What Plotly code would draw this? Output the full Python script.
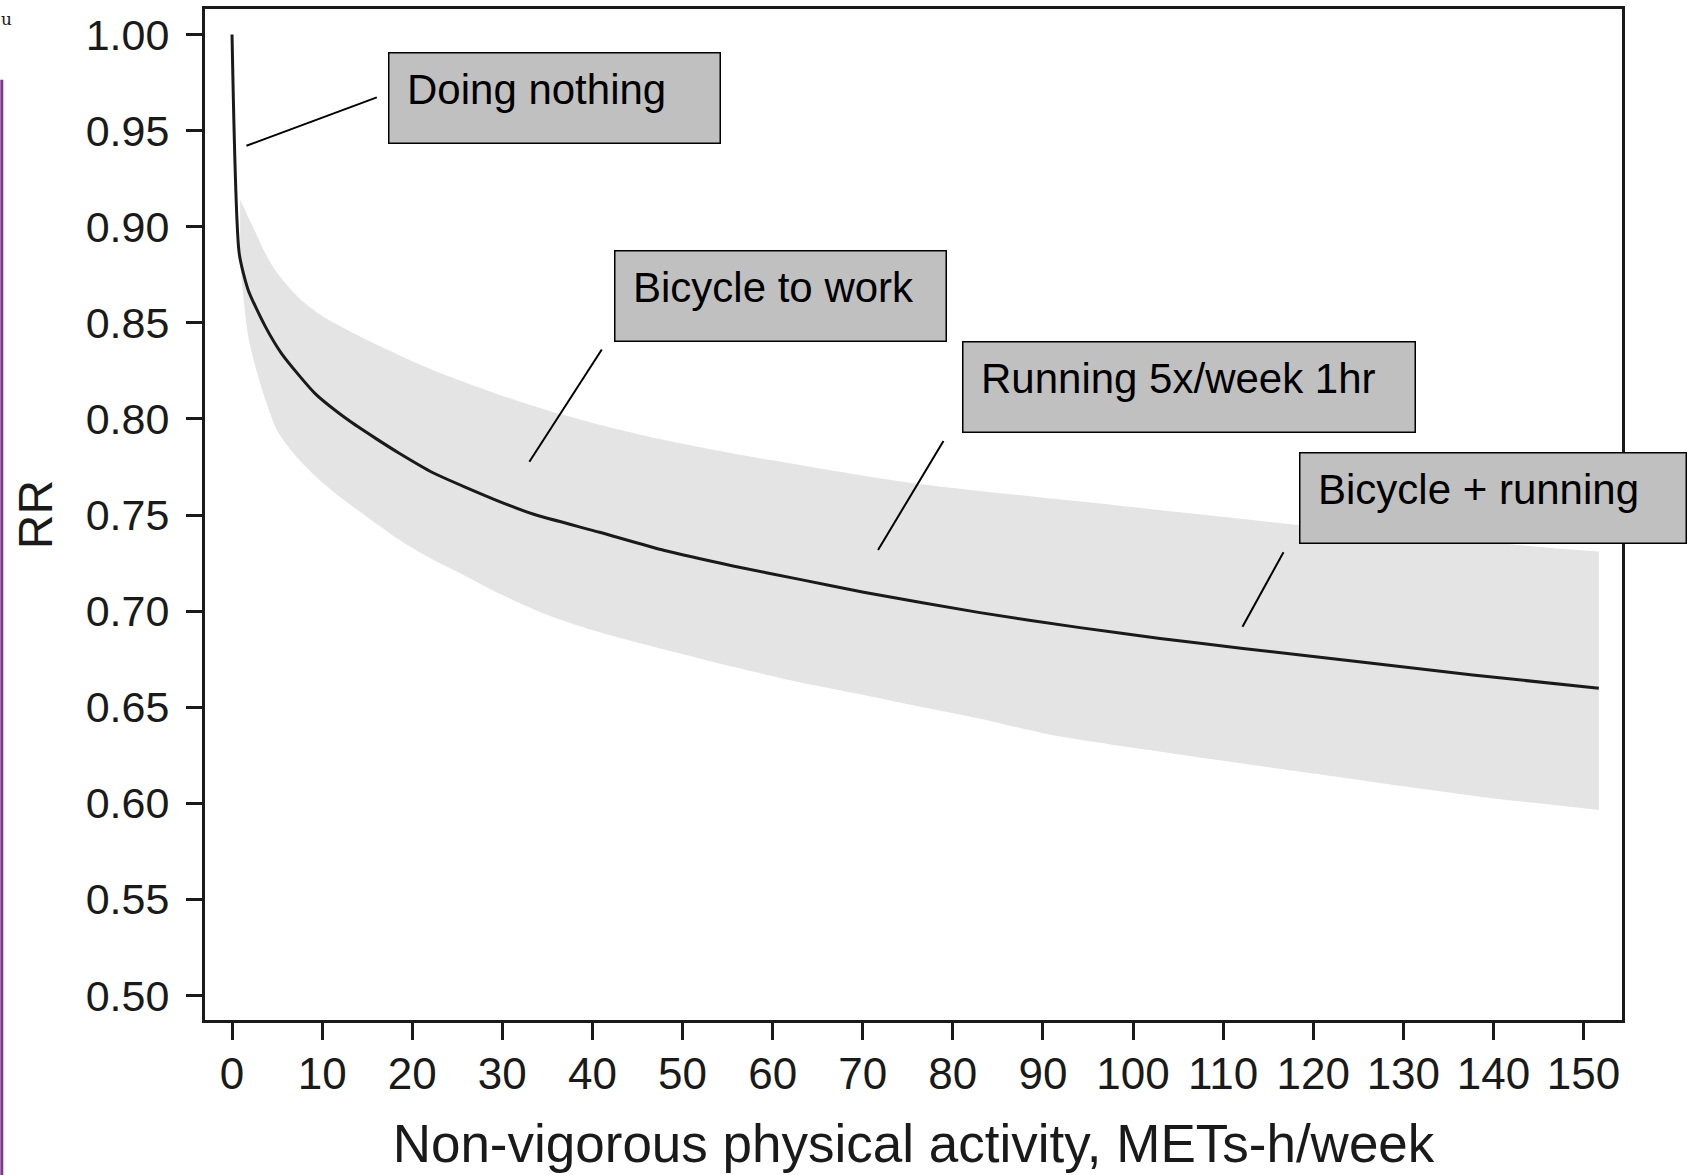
import plotly.graph_objects as go

# central RR curve
line_x = [0, 0.8, 1.8, 3.7, 5.5, 9.2, 12.9, 15.9, 18.6, 22.3, 29.7, 33.4, 40.8, 48,
          55.6, 63, 70.1, 83, 94.1, 103, 112.2, 125.8, 137.7, 151.7]
line_rr = [1.000, 0.886, 0.867, 0.848, 0.834, 0.8133, 0.7994, 0.790, 0.782, 0.772,
           0.757, 0.7505, 0.741, 0.7315, 0.7235, 0.7165, 0.7098, 0.6992, 0.6914, 0.6858,
           0.6806, 0.6732, 0.6668, 0.6598]

# confidence band
band_x = [0.9, 1.8, 2.9, 3.7, 5.0, 6.5, 8, 10, 12.5, 15, 18.6, 22, 25, 29.7, 35, 40.8,
          48, 55.6, 63, 70, 75.6, 83, 90, 96.3, 105, 113.9, 120, 126, 133.7, 140, 146, 151.7]
band_upper = [0.914, 0.905, 0.894, 0.886, 0.876, 0.8675, 0.8605, 0.8535, 0.847, 0.841,
              0.833, 0.826, 0.8205, 0.8125, 0.8045, 0.797, 0.789, 0.782, 0.776, 0.7705,
              0.7665, 0.7625, 0.759, 0.756, 0.7515, 0.747, 0.744, 0.741, 0.738, 0.7355,
              0.733, 0.731]
band_lower = [0.881, 0.843, 0.822, 0.810, 0.794, 0.784, 0.776, 0.767, 0.7575, 0.749,
              0.737, 0.7275, 0.7205, 0.709, 0.698, 0.689, 0.680, 0.671, 0.663, 0.6565,
              0.651, 0.644, 0.6365, 0.6315, 0.6255, 0.6195, 0.6155, 0.6115, 0.6065, 0.6025,
              0.5995, 0.5965]

x_ticks = list(range(0, 151, 10))
y_ticks = [0.50, 0.55, 0.60, 0.65, 0.70, 0.75, 0.80, 0.85, 0.90, 0.95, 1.00]

labels = ["Doing nothing", "Bicycle to work", "Running 5x/week 1hr", "Bicycle + running"]

# box corner (top-left, data units), box width px, leader line (from, to)
boxes = [
    dict(x=17.26, y=0.9907, w=333, line=(1.6, 0.9421, 16.07, 0.9673)),
    dict(x=42.37, y=0.8879, w=333, line=(33.0, 0.7777, 41.04, 0.8361)),
    dict(x=81.02, y=0.8405, w=454, line=(71.7, 0.7318, 78.96, 0.7885)),
    dict(x=118.38, y=0.7829, w=388, line=(112.15, 0.6919, 116.7, 0.7306)),
]

font = "Liberation Sans, Arial, Helvetica, sans-serif"
ink = "#1a1a1a"
band_col = "#e4e4e4"

fig = go.Figure()
fig.add_trace(go.Scatter(x=band_x, y=band_lower, mode="lines",
                         line=dict(width=0, color=band_col, shape="spline", smoothing=0.8),
                         showlegend=False, hoverinfo="skip"))
fig.add_trace(go.Scatter(x=band_x, y=band_upper, mode="lines",
                         line=dict(width=0, color=band_col, shape="spline", smoothing=0.8),
                         fill="tonexty", fillcolor=band_col, showlegend=False, hoverinfo="skip"))
fig.add_trace(go.Scatter(x=line_x, y=line_rr, mode="lines",
                         line=dict(width=3, color=ink, shape="spline", smoothing=0.6),
                         showlegend=False))

bw, box_h = 1.5, 92
for lab, b in zip(labels, boxes):
    x0, y0, x1, y1 = b["line"]
    fig.add_shape(type="line", x0=x0, y0=y0, x1=x1, y1=y1, line=dict(color="black", width=2))
    # grey box
    fig.add_annotation(x=b["x"], y=b["y"], xref="x", yref="y", xanchor="left", yanchor="top",
                       text=" ", showarrow=False, width=b["w"] - 2 * bw, height=box_h - 2 * bw,
                       bgcolor="#c0c0c0", bordercolor="black", borderwidth=bw, borderpad=0)
    # its label
    fig.add_annotation(x=b["x"], y=b["y"], xref="x", yref="y", xanchor="left", yanchor="top",
                       xshift=18, yshift=-13, borderpad=0,
                       text=lab, showarrow=False, align="left",
                       font=dict(family=font, size=42, color="black"))

# purple rule and stray glyph at the left edge of the page
fig.add_shape(type="line", xref="paper", yref="paper", x0=-0.1434, x1=-0.1434, y0=0.93, y1=-0.16,
              line=dict(color="#7b3a8c", width=3))
fig.add_annotation(xref="paper", yref="paper", x=-0.1455, y=1.0, xanchor="left", yanchor="top",
                   yshift=2, text="u", showarrow=False,
                   font=dict(family="DejaVu Serif", size=17, color=ink))

fig.update_xaxes(range=[-3.0, 154.27], tickvals=x_ticks, ticks="outside", ticklen=17, tickwidth=3,
                 tickcolor=ink, showline=True, linewidth=3, linecolor=ink, mirror=True,
                 showgrid=False, zeroline=False, automargin=False, ticklabelstandoff=-4,
                 tickfont=dict(family=font, size=44, color=ink),
                 title=dict(text="Non-vigorous physical activity, METs-h/week", standoff=29,
                            font=dict(family=font, size=53, color=ink)))
fig.update_yaxes(range=[0.48725, 1.01327], tickvals=y_ticks, tickformat=".2f", ticks="outside",
                 ticklen=16, tickwidth=3, tickcolor=ink, showline=True, linewidth=3, linecolor=ink,
                 mirror=True, showgrid=False, zeroline=False, automargin=False,
                 ticklabelstandoff=8,
                 tickfont=dict(family=font, size=43, color=ink),
                 title=dict(text="RR", standoff=18, font=dict(family=font, size=48, color=ink)))

fig.update_layout(width=1697, height=1175, margin=dict(l=205, r=75, t=9, b=155),
                  plot_bgcolor="white", paper_bgcolor="white", showlegend=False)

# the page is photographed edge to edge, so drop the default body margin
fig.write_html("out.html", config={"displayModeBar": False},
               post_script="document.body.style.margin='0';")
